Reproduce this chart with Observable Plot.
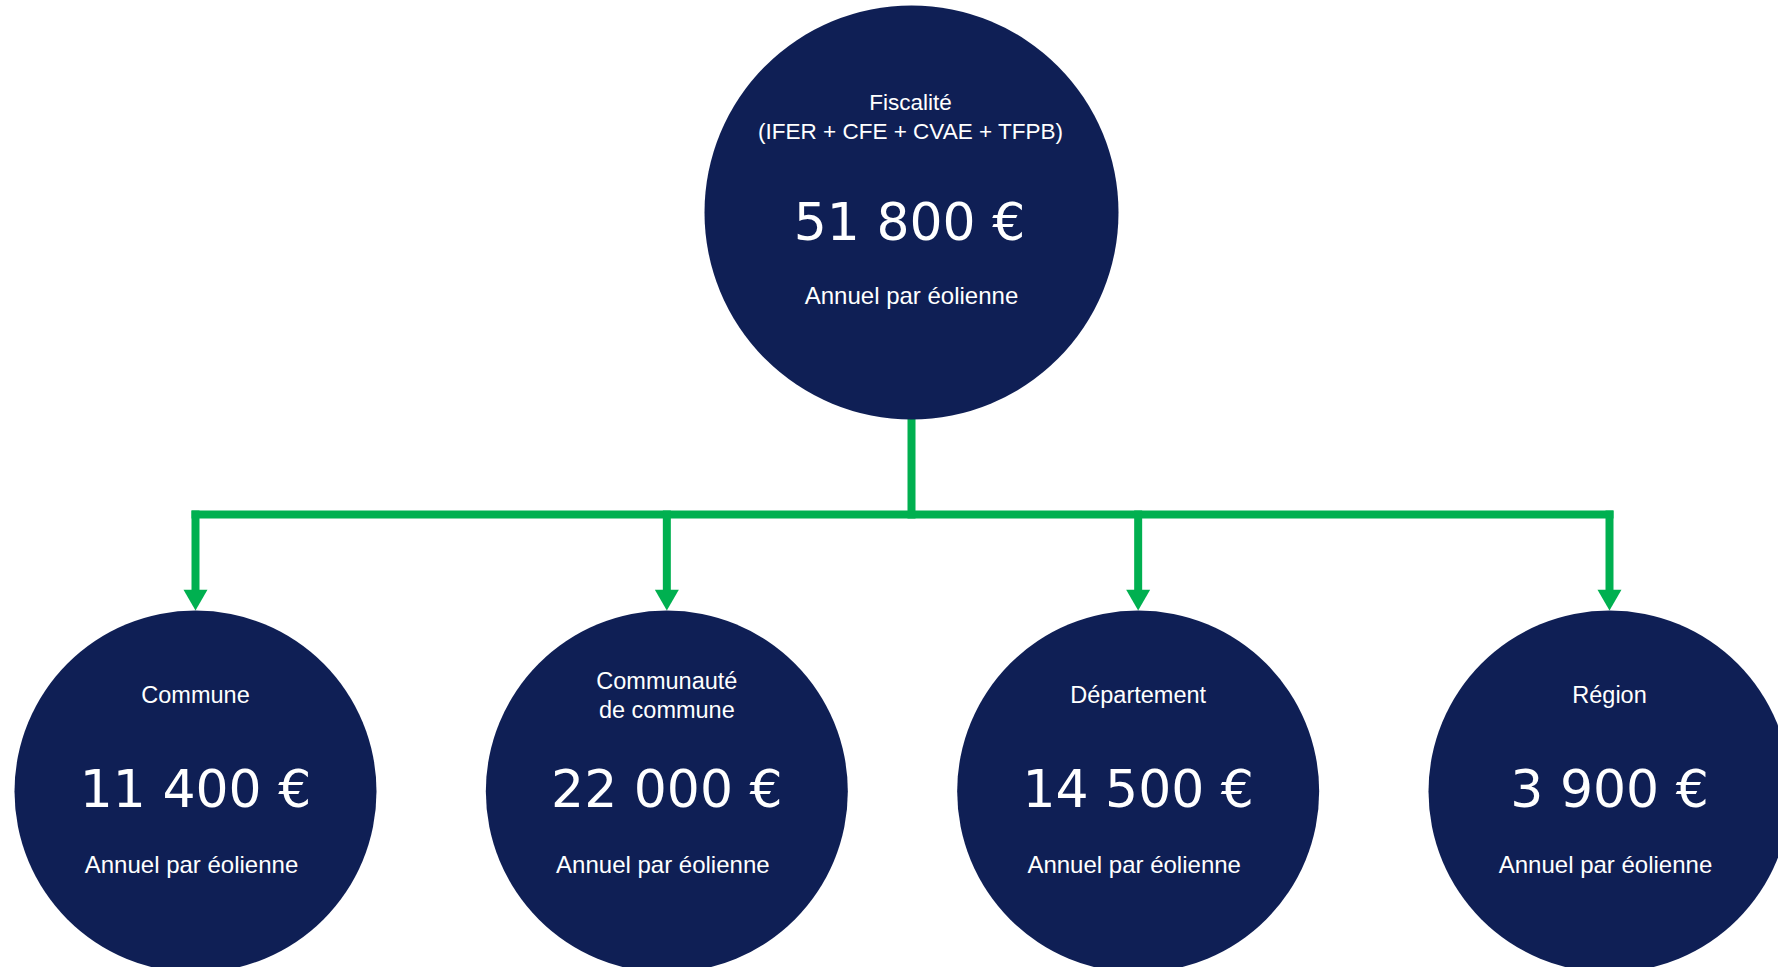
<!DOCTYPE html>
<html><head><meta charset="utf-8">
<script src="https://cdn.jsdelivr.net/npm/d3@7"></script>
<script src="https://cdn.jsdelivr.net/npm/@observablehq/plot@0.6"></script>
<style>html,body{margin:0;padding:0;background:#fff;overflow:hidden}#chart svg{display:block}</style>
</head><body><div id="chart"></div>
<script>
// ---- data ----
const rootLabel = "Fiscalité\n(IFER + CFE + CVAE + TFPB)";
const rootValue = 51800;
const childLabels = ["Commune", "Communauté\nde commune", "Département", "Région"];
const childValues = [11400, 22000, 14500, 3900];
const subLabel = "Annuel par éolienne";

// ---- layout & style ----
const W = 1778, H = 967;
const NAVY = "#0f1f55", GREEN = "#00b050", TXT = "#ffffff";
const root = {x: 911, y: 212, r: 207, labelY: 114.5, valueY: 223, subY: 296};
const child = {y: 791, r: 181, labelY: 693.5, valueY: 790, subY: 865};
const busY = 514;
const arrowTip = child.y - child.r;
const childX = d3.scalePoint().domain(childLabels).range([195, 1609]);

const fmt = d3.formatLocale({decimal: ",", thousands: " ", grouping: [3], currency: ["", " €"]}).format("$,");

const children = childLabels.map((label, i) => ({label, value: childValues[i], x: childX(label)}));
const segments = [
  {x1: root.x, y1: root.y + root.r - 2, x2: root.x, y2: busY},
  {x1: childX(childLabels[0]), y1: busY, x2: childX(childLabels[childLabels.length - 1]), y2: busY},
  ...children.map(c => ({x1: c.x, y1: busY, x2: c.x, y2: arrowTip - 20}))
];

const labelFont = "'Liberation Sans', Arial, sans-serif";
const valueFont = "'DejaVu Sans', sans-serif";

const plot = Plot.plot({
  width: W, height: H, margin: 0,
  x: {domain: [0, W], range: [0, W], axis: null},
  y: {domain: [0, H], range: [0, H], axis: null},
  style: {background: "#fff", overflow: "hidden"},
  marks: [
    Plot.link(segments, {x1: "x1", y1: "y1", x2: "x2", y2: "y2", stroke: GREEN, strokeWidth: 8, strokeLinecap: "square"}),
    Plot.dot(children, {x: "x", y: () => arrowTip - 13.9, symbol: "triangle", rotate: 180, r: 8.9, fill: GREEN, stroke: "none"}),
    Plot.dot([root], {x: "x", y: "y", r: root.r, fill: NAVY, stroke: "none"}),
    Plot.dot(children, {x: "x", y: () => child.y, r: child.r, fill: NAVY, stroke: "none"}),
    // root texts
    Plot.text([rootLabel], {x: () => root.x - 1, y: () => root.labelY, text: d => d, fill: TXT, fontSize: 22.5, fontFamily: labelFont, lineHeight: 1.3}),
    Plot.text([rootValue], {x: () => root.x - 2, y: () => root.valueY, text: d => fmt(d), fill: TXT, fontSize: 52, fontFamily: valueFont}),
    Plot.text([subLabel], {x: () => root.x, y: () => root.subY, text: d => d, fill: TXT, fontSize: 24, fontFamily: labelFont}),
    // child texts
    Plot.text(children, {x: "x", y: () => child.labelY, text: "label", fill: TXT, fontSize: 23.5, fontFamily: labelFont, lineHeight: 1.22}),
    Plot.text(children, {x: "x", y: () => child.valueY, text: d => fmt(d.value), fill: TXT, fontSize: 52, fontFamily: valueFont}),
    Plot.text(children, {x: d => d.x - 4, y: () => child.subY, text: () => subLabel, fill: TXT, fontSize: 24, fontFamily: labelFont})
  ]
});
document.getElementById("chart").appendChild(plot);
</script>
</body></html>
